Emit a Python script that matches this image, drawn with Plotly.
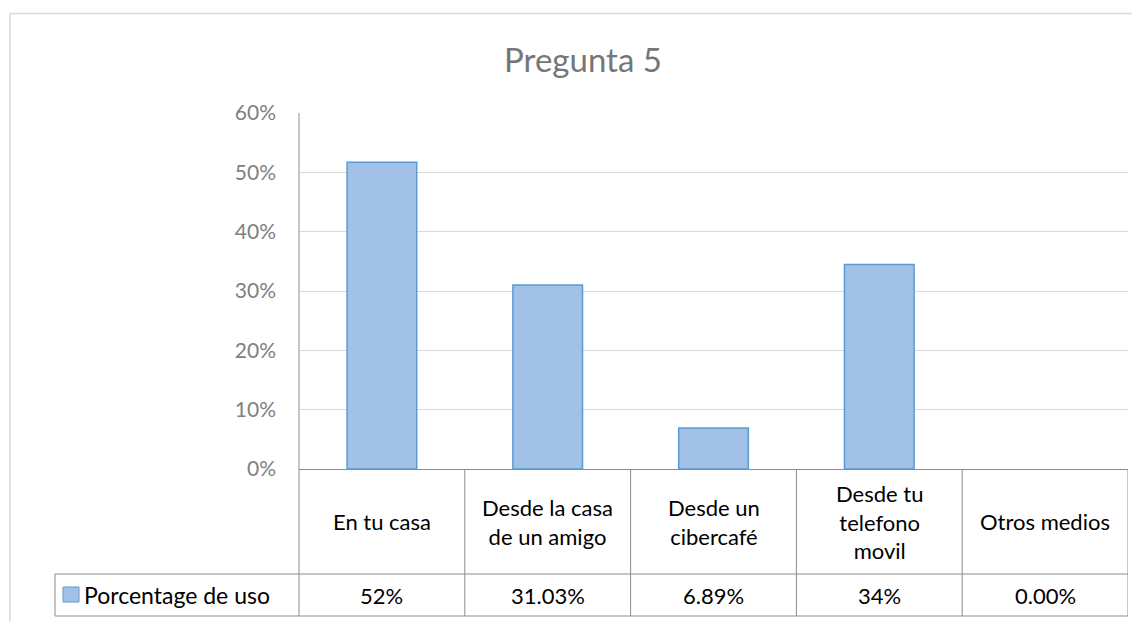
import plotly.graph_objects as go

categories = ["En tu casa", "Desde la casa de un amigo", "Desde un cibercafé",
              "Desde tu telefono movil", "Otros medios"]
header_labels = ["En tu casa", "Desde la casa<br>de un amigo", "Desde un<br>cibercafé",
                 "Desde tu<br>telefono<br>movil", "Otros medios"]
values = [0.5172, 0.3103, 0.0689, 0.3448, 0.0]
value_labels = ["52%", "31.03%", "6.89%", "34%", "0.00%"]
series_name = "Porcentage de uso"
title_text = "Pregunta 5"

OFF = 8  # default page body margin
W, H = 1140 - OFF, 621 - OFF
L, R, T, B = 299 - OFF, 1128 - OFF, 113 - OFF, 469 - OFF
FONT = "Lato"
GRID = "#d9d9d9"
LINE = "#8c8c8c"


def py(p):  # reference pixel y -> paper y
    return (B - (p - OFF)) / (B - T)


def px(p):  # reference pixel x -> paper x
    return ((p - OFF) - L) / (R - L)


fig = go.Figure()
fig.add_trace(go.Bar(
    x=list(range(len(categories))), y=values, width=0.42, name=series_name,
    marker=dict(color="#a2c1e7",
                line=dict(color="#5b9bd5", width=[1.5 if v > 0 else 0 for v in values])),
    showlegend=False, hovertext=categories,
))

shapes = []
# outer chart border (left & top)
shapes.append(dict(type="line", xref="paper", yref="paper", x0=px(10), x1=px(1150),
                   y0=py(13.5), y1=py(13.5), line=dict(color=GRID, width=1.5)))
shapes.append(dict(type="line", xref="paper", yref="paper", x0=px(10), x1=px(10),
                   y0=py(13.5), y1=py(640), line=dict(color=GRID, width=1.5)))
# vertical axis line extending into table
shapes.append(dict(type="line", xref="paper", yref="paper", x0=0, x1=0,
                   y0=1, y1=py(616), line=dict(color=LINE, width=1)))
# table horizontal lines
for yy in (574, 616):
    shapes.append(dict(type="line", xref="paper", yref="paper", x0=px(55), x1=1,
                       y0=py(yy), y1=py(yy), line=dict(color=LINE, width=1)))
# left edge of legend cell
shapes.append(dict(type="line", xref="paper", yref="paper", x0=px(55), x1=px(55),
                   y0=py(574), y1=py(616), line=dict(color=LINE, width=1)))
# column separators
for i in range(len(categories)):
    shapes.append(dict(type="line", xref="x", yref="paper", x0=i + 0.5, x1=i + 0.5,
                       y0=0, y1=py(616), line=dict(color=LINE, width=1)))
# legend swatch
shapes.append(dict(type="rect", xref="paper", yref="paper", x0=px(63), x1=px(79),
                   y0=py(602), y1=py(587), fillcolor="#a2c1e7",
                   line=dict(color="#5b9bd5", width=1)))

annotations = []
for i, (h, v) in enumerate(zip(header_labels, value_labels)):
    annotations.append(dict(x=i, xref="x", y=py(521.5), yref="paper", text=h,
                            showarrow=False, font=dict(family=FONT, size=22, color="#000"),
                            xanchor="center", yanchor="middle"))
    annotations.append(dict(x=i, xref="x", y=py(595), yref="paper", text=v,
                            showarrow=False, font=dict(family=FONT, size=22, color="#000"),
                            xanchor="center", yanchor="middle"))
annotations.append(dict(x=px(82), xref="paper", y=py(595), yref="paper", text=series_name,
                        showarrow=False, font=dict(family=FONT, size=23, color="#000"),
                        xanchor="left", yanchor="middle"))

fig.update_layout(
    width=W, height=H,
    margin=dict(l=L, r=W - R, t=T, b=H - B),
    paper_bgcolor="white", plot_bgcolor="white",
    title=dict(text=title_text, x=(583 - OFF) / W, xref="container",
               y=1 - (60 - OFF) / H, yref="container", xanchor="center", yanchor="middle",
               font=dict(family=FONT, size=33, color="#767676")),
    xaxis=dict(range=[-0.5, len(categories) - 0.5], showticklabels=False, showgrid=False,
               zeroline=False, showline=True, linecolor=LINE, linewidth=1, ticks=""),
    yaxis=dict(range=[0, 0.6], dtick=0.1, tickformat=".0%", showgrid=True, gridcolor=GRID,
               gridwidth=1.3, zeroline=False, showline=False, ticks="",
               ticklabelstandoff=22,
               tickfont=dict(family=FONT, size=21, color="#808080")),
    shapes=shapes, annotations=annotations, bargap=0.58,
)

fig.write_html("out.html")
